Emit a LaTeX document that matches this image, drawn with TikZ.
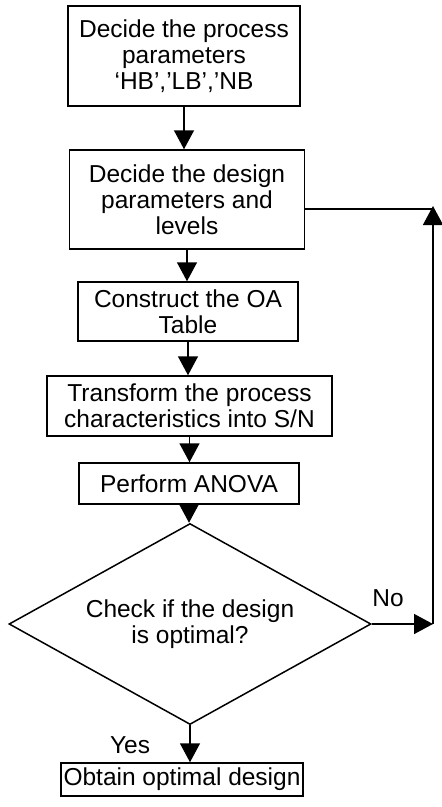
\documentclass[tikz,border=0pt]{standalone}
\usepackage{fontspec}
\setmainfont{Liberation Sans}
\usetikzlibrary{arrows.meta,shapes.geometric}
\begin{document}
\begin{tikzpicture}[x=1pt,y=-1pt,line width=1.5pt,
  box/.style={draw,rectangle,align=center,inner sep=0pt,
    font=\fontsize{24.5}{26}\selectfont},
  decision/.style={draw,diamond,aspect=1.8,align=center,inner sep=0pt,
    minimum width=362pt,minimum height=201pt,font=\fontsize{24.5}{26}\selectfont},
  lbl/.style={font=\fontsize{24.5}{26}\selectfont},
  flow/.style={-{Triangle[width=20pt,length=19pt]}}]
\useasboundingbox (0,0) rectangle (442,807);

\node[box,minimum width=232pt,minimum height=100pt] (procpar) at (184,56)
  {Decide the process\\parameters\\‘HB’,’LB’,’NB};
\node[box,minimum width=235pt,minimum height=99pt] (design) at (187,199.5)
  {Decide the design\\parameters and\\levels};
\node[box,minimum width=220pt,minimum height=59pt] (oatable) at (188,311.5)
  {Construct the OA\\Table};
\node[box,minimum width=285pt,minimum height=60pt] (transform) at (189.5,406)
  {Transform the process\\characteristics into S/N};
\node[box,minimum width=220pt,minimum height=41pt] (anova) at (189,483.5)
  {Perform ANOVA};
\node[decision] (check) at (190,624) {Check if the design\\is optimal?};
\node[box,minimum width=242pt,minimum height=33pt] (optimal) at (182,779.5)
  {Obtain optimal design};

\node[lbl] (no) at (388,598) {No};
\node[lbl] (yes) at (130,745) {Yes};
\coordinate (loopbot) at (433,624);
\coordinate (looptop) at (433,206);

\draw[flow] (procpar.south) -- (procpar.south |- design.north);
\draw[flow] (design.south) -- (design.south |- oatable.north);
\draw[flow] (oatable.south) -- (oatable.south |- transform.north);
\draw[flow] (transform.south) -- (transform.south |- anova.north);
\draw[flow] (anova.south) -- (anova.south |- check.north);
\draw[flow] (check.south) -- (check.south |- optimal.north);
\draw[flow] (check.east) -- (loopbot);
\draw[flow] (loopbot) -- (looptop);
\draw (design.east |- 0,209) -- (433,209);
\end{tikzpicture}
\end{document}
